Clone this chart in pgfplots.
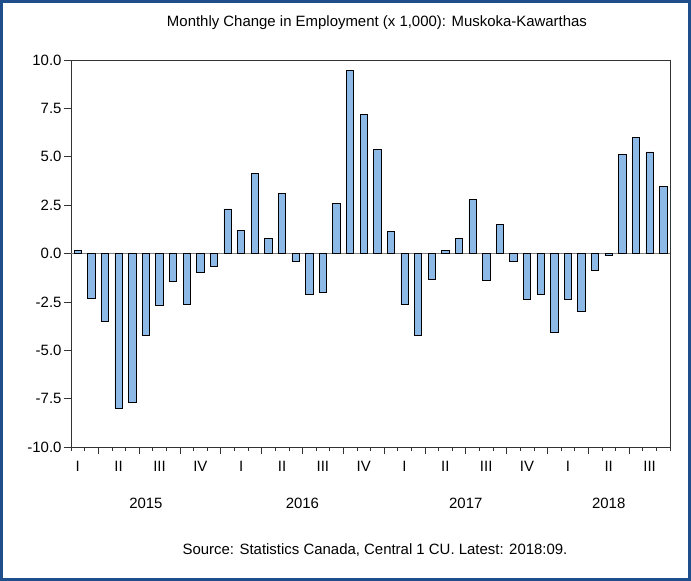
\documentclass[border=0pt]{standalone}
\usepackage{fontspec}
\setmainfont{Liberation Sans}
\usepackage{pgfplots}
\pgfplotsset{compat=1.18}
\definecolor{barblue}{RGB}{141,185,230}
\definecolor{frameblue}{RGB}{31,78,140}
\newcommand{\chartfont}{\fontsize{15}{17}\selectfont}
\begin{document}
\begin{tikzpicture}
\useasboundingbox (-71bp,-134bp) rectangle (620bp,447bp);
\fill[white] (-71bp,-134bp) rectangle (620bp,447bp);
\draw[frameblue, line width=3bp] (-69.5bp,-132.5bp) rectangle (618.5bp,445.5bp);
\begin{axis}[
  at={(0,0)}, anchor=south west,
  scale only axis, width=599bp, height=387bp,
  xmin=0.5, xmax=44.5, ymin=-10, ymax=10,
  clip=false,
  axis line style={black!80, line width=0.8bp},
  tick align=outside, xtick pos=bottom, ytick pos=left,
  tick style={black!80, line width=0.6bp},
  ytick={-10,-7.5,...,10},
  yticklabel style={/pgf/number format/fixed, /pgf/number format/fixed zerofill,
    /pgf/number format/precision=1, /pgf/number format/assume math mode=true,
    font=\chartfont, xshift=1bp},
  major tick length=7bp, minor tick length=3.5bp,
  xtick={2.5,5.5,...,41.5}, xticklabels={},
  minor xtick={0.5,1.5,...,44.5},
  extra x ticks={1,4,...,43},
  extra x tick labels={I,II,III,IV,I,II,III,IV,I,II,III,IV,I,II,III},
  extra x tick style={major tick length=0pt, tick label style={font=\chartfont, yshift=-11bp}},
  extra y ticks={0}, extra y tick labels={},
  extra y tick style={grid=major, major grid style={gray, line width=1.3bp}, major tick length=0pt},
  ybar, bar width=0.54,
]
\addplot[fill=barblue, draw=black, line width=0.7bp] coordinates {
(1,0.15) (2,-2.3) (3,-3.5) (4,-8.0) (5,-7.7) (6,-4.25) (7,-2.7) (8,-1.45)
(9,-2.65) (10,-0.95) (11,-0.65) (12,2.3) (13,1.2) (14,4.15) (15,0.8) (16,3.1)
(17,-0.4) (18,-2.1) (19,-2.0) (20,2.6) (21,9.45) (22,7.2) (23,5.4) (24,1.15)
(25,-2.65) (26,-4.25) (27,-1.35) (28,0.15) (29,0.8) (30,2.8) (31,-1.4) (32,1.5)
(33,-0.4) (34,-2.35) (35,-2.1) (36,-4.1) (37,-2.35) (38,-3.0) (39,-0.85) (40,-0.1)
(41,5.1) (42,6.0) (43,5.25) (44,3.45)
};
\node[font=\chartfont] at (axis cs:6,-10) [yshift=-56bp] {2015};
\node[font=\chartfont] at (axis cs:17.5,-10) [yshift=-56bp] {2016};
\node[font=\chartfont] at (axis cs:29.5,-10) [yshift=-56bp] {2017};
\node[font=\chartfont] at (axis cs:40,-10) [yshift=-56bp] {2018};
\node[font=\chartfont] at (rel axis cs:0,1) [xshift=306bp, yshift=37bp] {Monthly Change in Employment (x 1,000): Muskoka-Kawarthas};
\node[font=\chartfont] at (rel axis cs:0,0) [xshift=304bp, yshift=-103bp] {Source: Statistics Canada, Central 1 CU. Latest: 2018:09.};
\end{axis}
\end{tikzpicture}
\end{document}
